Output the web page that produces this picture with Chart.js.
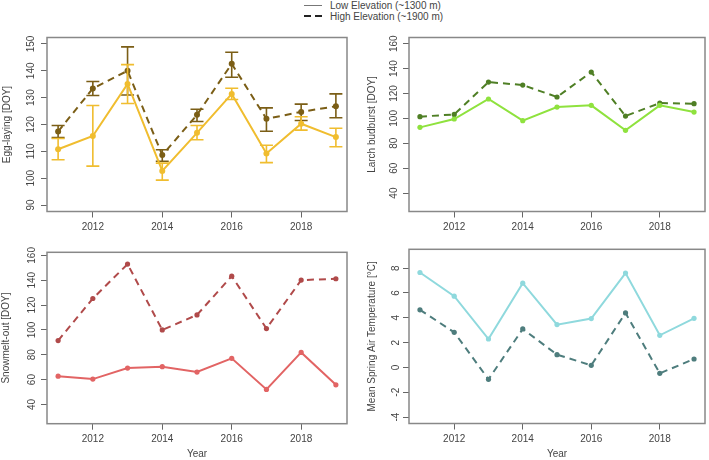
<!DOCTYPE html>
<html><head><meta charset="utf-8">
<script src="https://cdn.jsdelivr.net/npm/chart.js@4/dist/chart.umd.min.js"></script>
<style>
body{margin:0;background:#fff;width:709px;height:460px;position:relative;overflow:hidden;font-family:"Liberation Sans",Arial,sans-serif;}
canvas{position:absolute;}
.lg{position:absolute;left:330px;font-size:10px;color:#444;line-height:11px;white-space:nowrap;}
.ls{position:absolute;height:0;}
</style></head>
<body>
<div class="ls" style="left:304px;top:5px;width:18px;border-top:1px solid #777;"></div>
<div class="ls" style="left:304px;top:15px;width:7px;border-top:2px solid #222;"></div>
<div class="ls" style="left:315px;top:15px;width:7px;border-top:2px solid #222;"></div>
<div class="lg" style="top:0px;">Low Elevation (~1300 m)</div>
<div class="lg" style="top:11px;">High Elevation (~1900 m)</div>
<canvas id="c1" width="354" height="240" style="left:0;top:0"></canvas>
<canvas id="c2" width="355" height="240" style="left:354px;top:0"></canvas>
<canvas id="c3" width="354" height="220" style="left:0;top:240px"></canvas>
<canvas id="c4" width="355" height="220" style="left:354px;top:240px"></canvas>
<script>
// ---- data ----
const years = [2011, 2012, 2013, 2014, 2015, 2016, 2017, 2018, 2019];
const xTicks = [2012, 2014, 2016, 2018];

const eggLow = [110.8, 115.7, 135.1, 102.7, 116.9, 131.4, 109.2, 120.3, 115.3];
const eggLowUpper = [114.8, 127.1, 142.3, 105.6, 119.6, 133.5, 112.3, 122.9, 118.6];
const eggLowLower = [106.9, 104.5, 127.8, 99.3, 114.3, 129.3, 105.8, 117.9, 111.7];
const eggHigh = [117.4, 133.4, 140.0, 108.6, 123.6, 142.6, 122.1, 124.7, 126.8];
const eggHighUpper = [119.6, 136.0, 148.9, 110.6, 125.7, 146.9, 126.2, 127.6, 131.4];
const eggHighLower = [115.1, 130.8, 131.0, 106.3, 121.1, 137.6, 117.5, 121.5, 122.5];
const eggTicks = [90, 100, 110, 120, 130, 140, 150];

const larchLow = [92.8, 99.5, 115.6, 98.2, 109.1, 110.5, 90.4, 110.5, 105.1];
const larchHigh = [101.4, 103.2, 129.2, 126.8, 117.2, 137.2, 101.9, 112.3, 111.8];
const larchTicks = [40, 60, 80, 100, 120, 140, 160];

const snowLow = [62.8, 60.4, 69.3, 70.4, 66.1, 77.1, 52.1, 81.9, 55.8];
const snowHigh = [91.4, 125.3, 153.0, 100.0, 112.1, 143.3, 101.1, 140.1, 141.2];
const snowTicks = [40, 60, 80, 100, 120, 140, 160];

const tempLow = [7.65, 5.74, 2.29, 6.79, 3.45, 3.94, 7.60, 2.59, 3.96];
const tempHigh = [4.64, 2.83, -0.96, 3.10, 1.03, 0.17, 4.39, -0.48, 0.68];
const tempTicks = [-4, -2, 0, 2, 4, 6, 8];

// ---- style ----
const FONT = "'Liberation Sans', Arial, sans-serif";
const TXT = '#444';
Chart.defaults.font.family = FONT;
Chart.defaults.font.size = 10;
Chart.defaults.color = TXT;

const boxPlugin = {
  id: 'box',
  afterDraw(chart) {
    const {ctx, chartArea: a} = chart;
    ctx.save();
    ctx.strokeStyle = '#888';
    ctx.lineWidth = 1.5;
    ctx.strokeRect(a.left, a.top, a.right - a.left, a.bottom - a.top);
    ctx.restore();
  }
};

function errPlugin(bars) {
  return {
    id: 'err',
    afterDatasetDraw(chart, args) {
      const b = bars[args.index];
      if (!b) return;
      const {ctx} = chart;
      const xs = chart.scales.x, ys = chart.scales.y;
      ctx.save();
      ctx.strokeStyle = b.color;
      ctx.lineWidth = 1.6;
      ctx.setLineDash([]);
      years.forEach((yr, i) => {
        const px = xs.getPixelForValue(yr);
        const t = ys.getPixelForValue(b.upper[i]);
        const d = ys.getPixelForValue(b.lower[i]);
        ctx.beginPath();
        ctx.moveTo(px, t); ctx.lineTo(px, d);
        ctx.moveTo(px - 6.5, t); ctx.lineTo(px + 6.5, t);
        ctx.moveTo(px - 6.5, d); ctx.lineTo(px + 6.5, d);
        ctx.stroke();
      });
      ctx.restore();
    }
  };
}

function panel(id, cfg) {
  const plugins = [boxPlugin];
  if (cfg.bars) plugins.push(errPlugin(cfg.bars));
  return new Chart(document.getElementById(id), {
    type: 'line',
    data: {
      datasets: cfg.series.map(s => ({
        data: years.map((yr, i) => ({x: yr, y: s.values[i]})),
        borderColor: s.color,
        backgroundColor: s.color,
        pointBackgroundColor: s.color,
        pointBorderColor: s.color,
        pointBorderWidth: 0,
        borderWidth: 2,
        borderDash: s.dash ? [7, 5] : [],
        pointRadius: cfg.pr,
        tension: 0,
        fill: false
      }))
    },
    options: {
      responsive: false,
      animation: false,
      devicePixelRatio: 1,
      events: [],
      layout: {padding: {top: cfg.padTop, right: cfg.padRight, left: 0, bottom: 0}},
      plugins: {legend: {display: false}, tooltip: {enabled: false}},
      scales: {
        x: {
          type: 'linear', min: 2010.68, max: 2019.32,
          afterBuildTicks: s => { s.ticks = xTicks.map(v => ({value: v})); },
          afterFit: s => { s.height = cfg.xH; },
          grid: {display: true, drawOnChartArea: false, drawTicks: true, tickLength: 6, tickColor: '#666', tickWidth: 1},
          border: {display: false},
          ticks: {padding: 4, color: TXT, font: {size: 10}, callback: v => String(v), maxRotation: 0, autoSkip: false},
          title: {display: !!cfg.xTitle, text: 'Year', color: TXT, font: {size: 10}, padding: {top: 0, bottom: 0}}
        },
        y: {
          type: 'linear', min: cfg.yMin, max: cfg.yMax,
          afterBuildTicks: s => { s.ticks = cfg.yTicks.map(v => ({value: v})); },
          afterFit: s => { s.width = cfg.yW; },
          grid: {display: true, drawOnChartArea: false, drawTicks: true, tickLength: 6, tickColor: '#666', tickWidth: 1},
          border: {display: false},
          ticks: {padding: cfg.yPad, color: TXT, font: {size: 10}, callback: v => String(v), minRotation: 90, maxRotation: 90, crossAlign: 'center', autoSkip: false},
          title: {display: true, text: cfg.yTitle, color: TXT, font: {size: 10}, padding: {top: cfg.titlePad, bottom: 0}}
        }
      }
    },
    plugins
  });
}

panel('c1', {
  series: [
    {values: eggLow, color: '#F0BD2F', dash: false},
    {values: eggHigh, color: '#7B5E16', dash: true}
  ],
  bars: [
    {upper: eggLowUpper, lower: eggLowLower, color: '#F0BD2F'},
    {upper: eggHighUpper, lower: eggHighLower, color: '#7B5E16'}
  ],
  pr: 3, yMin: 87.6, yMax: 152.4, yTicks: eggTicks, yTitle: 'Egg-laying [DOY]',
  yW: 47, padTop: 37.5, padRight: 7, xH: 28.5, yPad: 1, titlePad: 1, xTitle: false
});

panel('c2', {
  series: [
    {values: larchLow, color: '#8FE23E', dash: false},
    {values: larchHigh, color: '#4F7F25', dash: true}
  ],
  pr: 2.6, yMin: 25.2, yMax: 165, yTicks: larchTicks, yTitle: 'Larch budburst [DOY]',
  yW: 55, padTop: 37.5, padRight: 1.5, xH: 28.5, yPad: 0, titlePad: 12.7, xTitle: false
});

panel('c3', {
  series: [
    {values: snowLow, color: '#E26464', dash: false},
    {values: snowHigh, color: '#B04A4A', dash: true}
  ],
  pr: 2.6, yMin: 24.5, yMax: 162.5, yTicks: snowTicks, yTitle: 'Snowmelt-out [DOY]',
  yW: 47, padTop: 12.3, padRight: 7, xH: 36.3, yPad: 0.6, titlePad: 0.5, xTitle: true
});

panel('c4', {
  series: [
    {values: tempLow, color: '#8FD9DD', dash: false},
    {values: tempHigh, color: '#4E7D7D', dash: true}
  ],
  pr: 2.6, yMin: -4.52, yMax: 9.52, yTicks: tempTicks, yTitle: 'Mean Spring Air Temperature [°C]',
  yW: 55, padTop: 9.3, padRight: 1.5, xH: 36.5, yPad: 2.5, titlePad: 12.7, xTitle: true
});
</script>
</body></html>
